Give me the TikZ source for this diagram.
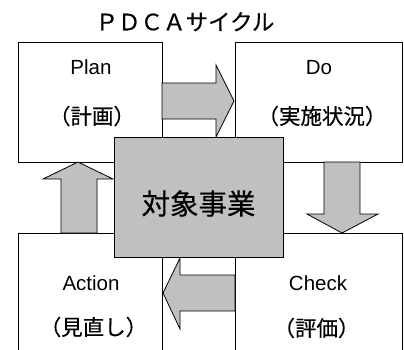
\documentclass[tikz,border=0pt]{standalone}
\usepackage{fontspec}
\setmainfont{Liberation Sans}
\newfontfamily\jpfont[FakeBold=0.4]{Noto Sans CJK JP}
\definecolor{blockgray}{HTML}{C0C0C0}
\begin{document}
\begin{tikzpicture}[x=1pt,y=-1pt,
  box/.style={draw=black, line width=0.8pt, fill=white, inner sep=0pt, outer sep=0pt, anchor=north west},
  blk/.style={draw=black, line width=0.8pt, fill=blockgray, line join=miter},
  lbl/.style={inner sep=0pt, font=\fontsize{20.5}{24}\selectfont},
  jlbl/.style={inner sep=0pt, font=\jpfont\fontsize{21.5}{25}\selectfont}]
\useasboundingbox (0,0) rectangle (404,349);
\clip (0,0) rectangle (404,349);
% boxes
\node[box, minimum width=144pt, minimum height=120pt] (plan) at (18,42) {};
\node[box, minimum width=167pt, minimum height=120pt] (do) at (235,42) {};
\node[box, minimum width=144pt, minimum height=140pt] (action) at (18,233) {};
\node[box, minimum width=167pt, minimum height=140pt] (check) at (235,233) {};
% block arrows
\draw[blk] (162,83) -- (216,83) -- (216,65) -- (234,101) -- (216,137) -- (216,119) -- (162,119) -- cycle;
\draw[blk] (324,162) -- (324,214) -- (307,214) -- (342,233) -- (378,214) -- (360,214) -- (360,162) -- cycle;
\draw[blk] (235,275) -- (180,275) -- (180,258) -- (163,293) -- (180,329) -- (180,311) -- (235,311) -- cycle;
\draw[blk] (61,233) -- (61,179) -- (43,179) -- (78,162) -- (113,179) -- (97,179) -- (97,233) -- cycle;
% centre box
\node[box, fill=blockgray, minimum width=169pt, minimum height=120pt] (target) at (114,137) {};
% labels
\node[jlbl, font=\jpfont\fontsize{22.5}{26}\selectfont] (title) at (185,21.7) {ＰＤＣＡサイクル};
\node[lbl] (plant) at (91,67.5) {Plan};
\node[jlbl] (planj) at (92,116) {（計画）};
\node[lbl] (dot) at (319,67.5) {Do};
\node[jlbl] (doj) at (322,116) {（実施状況）};
\node[jlbl, font=\jpfont\fontsize{28.5}{32}\selectfont] (targett) at (198.5,203.5) {対象事業};
\node[lbl] (actiont) at (91,283.5) {Action};
\node[jlbl] (actionj) at (93.5,327) {（見直し）};
\node[lbl] (checkt) at (318,283.5) {Check};
\node[jlbl] (checkj) at (316.5,328) {（評価）};
\end{tikzpicture}
\end{document}
